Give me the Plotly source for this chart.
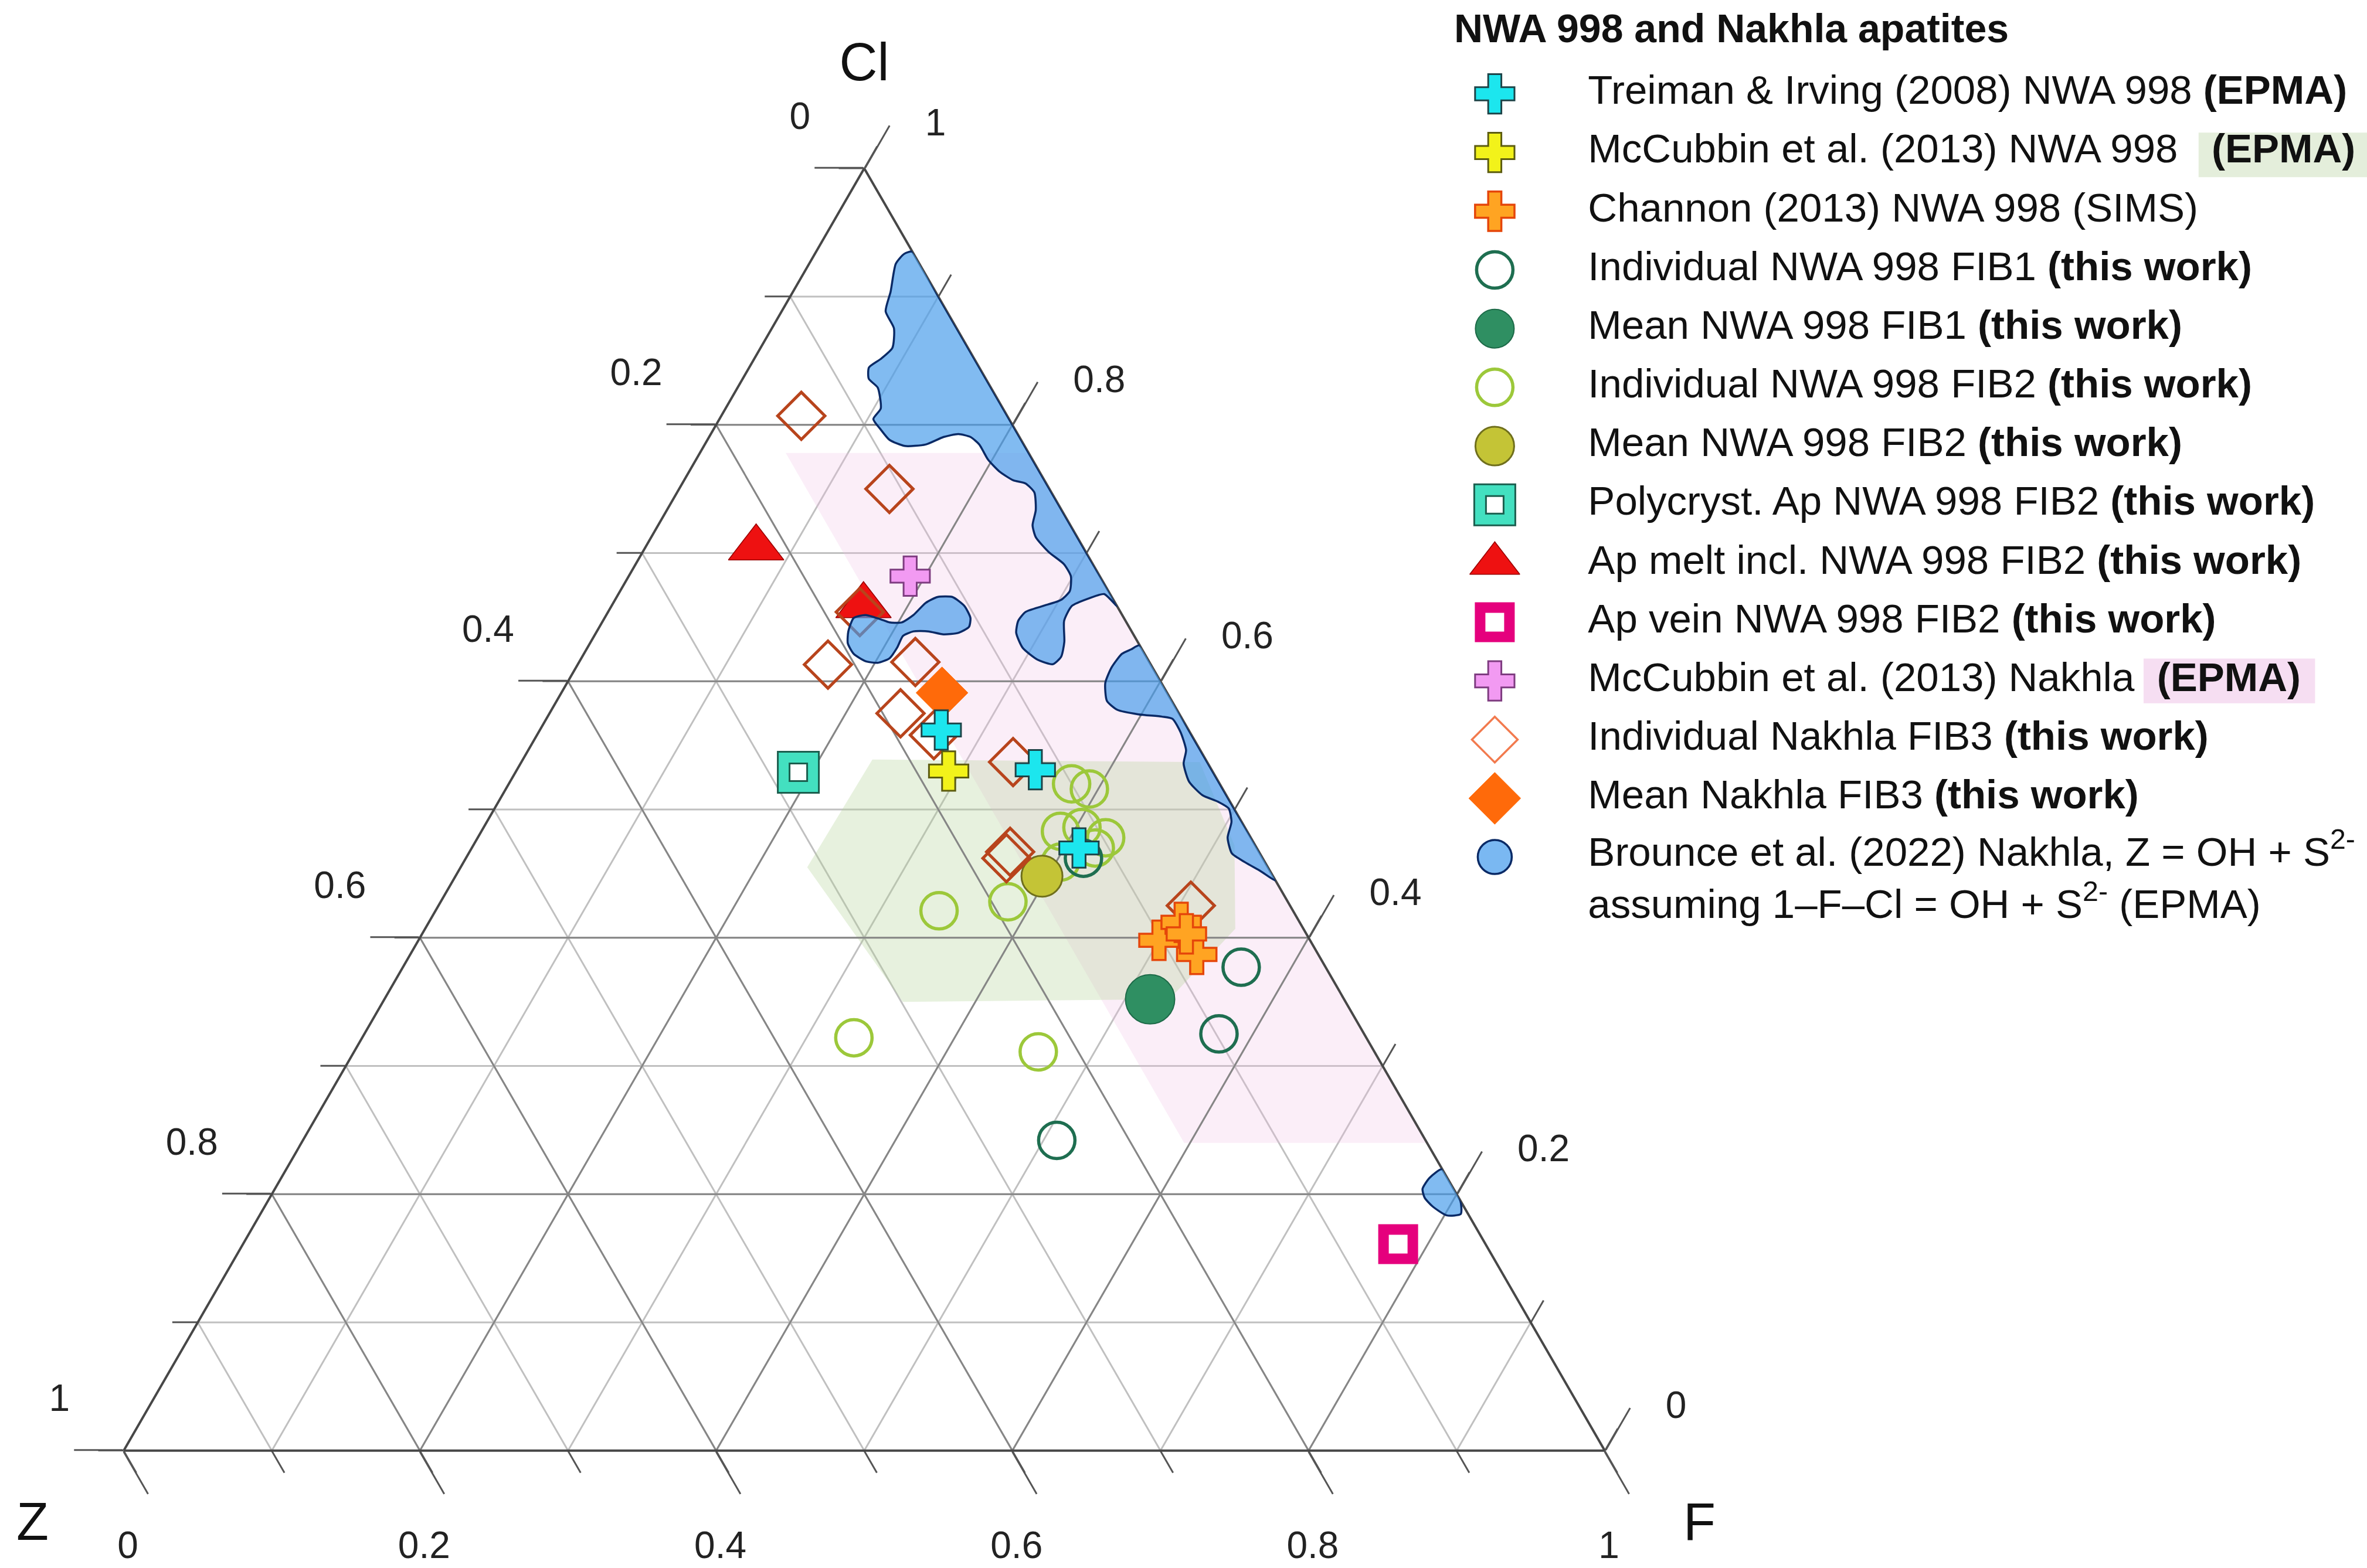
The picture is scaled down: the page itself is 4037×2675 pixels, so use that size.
import numpy as np
import plotly.graph_objects as go

# ---------------------------------------------------------------
# Data: molar fractions on the ternary Cl - F - Z  (Z = 1 - Cl - F)
# ---------------------------------------------------------------
treiman_cl = [0.562, 0.531, 0.470]
treiman_f = [0.271, 0.350, 0.410]

mccubbin_nwa_cl = [0.530]
mccubbin_nwa_f = [0.292]

channon_cl = [0.398, 0.412, 0.387, 0.403]
channon_f = [0.500, 0.508, 0.531, 0.516]

fib1_ind_cl = [0.377, 0.325, 0.242, 0.462]
fib1_ind_f = [0.566, 0.577, 0.509, 0.417]

fib1_mean_cl = [0.352]
fib1_mean_f = [0.517]

fib2_ind_cl = [0.421, 0.428, 0.322, 0.311, 0.520, 0.516, 0.483, 0.486, 0.478, 0.470, 0.459]
fib2_ind_f = [0.340, 0.383, 0.332, 0.462, 0.380, 0.394, 0.391, 0.404, 0.424, 0.421, 0.403]

fib2_mean_cl = [0.448]
fib2_mean_f = [0.396]

polycryst_cl = [0.529]
polycryst_f = [0.191]

melt_cl = [0.704, 0.659]
melt_f = [0.075, 0.170]

vein_cl = [0.161]
vein_f = [0.780]

mccubbin_nakhla_cl = [0.682]
mccubbin_nakhla_f = [0.190]

fib3_ind_cl = [0.807, 0.750, 0.613, 0.615, 0.575, 0.654, 0.537, 0.558, 0.467, 0.462, 0.425]
fib3_ind_f = [0.054, 0.142, 0.169, 0.227, 0.237, 0.170, 0.332, 0.268, 0.365, 0.365, 0.508]

fib3_mean_cl = [0.591]
fib3_mean_f = [0.257]

# Brounce et al. (2022) Nakhla fields, outlines given as (Cl, Z); F = 1 - Cl - Z
brounce_a_cl = [0.935, 0.9333, 0.9256, 0.9038, 0.8885, 0.8753, 0.8600, 0.8513, 0.8447, 0.8359,
                0.8290, 0.8127, 0.8045, 0.7963, 0.7882, 0.7835, 0.7846, 0.7905, 0.7928, 0.7905,
                0.7846, 0.7730, 0.7637, 0.7567, 0.7543, 0.7473, 0.7334, 0.7217, 0.7124, 0.7007,
                0.6914, 0.6820, 0.6704, 0.6634, 0.6587, 0.6541, 0.6471, 0.6378, 0.6261, 0.6168,
                0.6133, 0.6191, 0.6308, 0.6471, 0.6587, 0.6646, 0.6680, 0.6587, 0.700, 0.800, 0.900]
brounce_a_z = [0.000, 0.0064, 0.0159, 0.0303, 0.0413, 0.0423, 0.0510, 0.0633, 0.0745, 0.0790,
               0.0764, 0.0825, 0.0916, 0.0907, 0.0888, 0.0809, 0.0663, 0.0512, 0.0400, 0.0330,
               0.0300, 0.0300, 0.0270, 0.0210, 0.0140, 0.0115, 0.0175, 0.0255, 0.0280, 0.0250,
               0.0195, 0.0195, 0.0260, 0.0355, 0.0500, 0.0640, 0.0725, 0.0785, 0.0800, 0.0745,
               0.0660, 0.0575, 0.0495, 0.0415, 0.0305, 0.0160, 0.0040, 0.000, 0.000, 0.000, 0.000]

brounce_b_cl = [0.6494, 0.6517, 0.6483, 0.6459, 0.6459, 0.6517, 0.6611, 0.6657, 0.6657, 0.6587,
                0.6494, 0.6424, 0.6378, 0.6366, 0.6389, 0.6389, 0.6354, 0.6261, 0.6179, 0.6144,
                0.6156, 0.6214, 0.6296, 0.6389]
brounce_b_z = [0.1824, 0.1732, 0.1647, 0.1600, 0.1518, 0.1409, 0.1280, 0.1177, 0.1076, 0.1030,
               0.1036, 0.1081, 0.1175, 0.1282, 0.1372, 0.1473, 0.1561, 0.1648, 0.1740, 0.1837,
               0.1912, 0.1964, 0.1963, 0.1913]

brounce_c_cl = [0.6280, 0.6249, 0.6214, 0.6109, 0.5987, 0.5847, 0.5777, 0.5742, 0.5724, 0.5707,
                0.5602, 0.5462, 0.5357, 0.5218, 0.5112, 0.5060, 0.5008, 0.4903, 0.4781, 0.4658,
                0.4588, 0.4518, 0.4448, 0.500, 0.560]
brounce_c_z = [0.000, 0.0073, 0.0153, 0.0275, 0.0379, 0.0438, 0.0402, 0.0277, 0.0127, 0.0065,
               0.0063, 0.0096, 0.0165, 0.0198, 0.0161, 0.0080, 0.0035, 0.0069, 0.0156, 0.0189,
               0.0134, 0.0063, 0.000, 0.000, 0.000]

brounce_d_cl = [0.2195, 0.2127, 0.2041, 0.1972, 0.1904, 0.1835, 0.1845, 0.1950]
brounce_d_z = [0.000, 0.012, 0.021, 0.023, 0.021, 0.015, 0.005, 0.000]

# Highlight fields (Cl, Z)
pink_cl = [0.778, 0.778, 0.240, 0.240]
pink_z = [0.164, 0.000, 0.000, 0.164]
green_cl = [0.455, 0.539, 0.537, 0.472, 0.407, 0.352, 0.350]
green_z = [0.311, 0.225, 0.005, 0.014, 0.046, 0.118, 0.299]

# Axis ticks (labels run clockwise: left edge = Z, bottom = F, right = Cl)
major_vals = [0.0, 0.2, 0.4, 0.6, 0.8, 1.0]
major_text = ["1", "0.8", "0.6", "0.4", "0.2", "0"]
minor_vals = [0.0, 0.1, 0.2, 0.3, 0.4, 0.5, 0.6, 0.7, 0.8, 0.9, 1.0]
axis_titles = {"a": "Cl", "b": "Z", "c": "F"}

# Legend
legend_labels = [
    "Treiman & Irving (2008) NWA 998 <b>(EPMA)</b>",
    "McCubbin et al. (2013) NWA 998\u00a0\u00a0\u00a0<b>(EPMA)</b>",
    "Channon (2013) NWA 998 (SIMS)",
    "Individual NWA 998 FIB1 <b>(this work)</b>",
    "Mean NWA 998 FIB1 <b>(this work)</b>",
    "Individual NWA 998 FIB2 <b>(this work)</b>",
    "Mean NWA 998 FIB2 <b>(this work)</b>",
    "Polycryst. Ap NWA 998 FIB2 <b>(this work)</b>",
    "Ap melt incl. NWA 998 FIB2 <b>(this work)</b>",
    "Ap vein NWA 998 FIB2 <b>(this work)</b>",
    "McCubbin et al. (2013) Nakhla\u00a0\u00a0<b>(EPMA)</b>",
    "Individual Nakhla FIB3 <b>(this work)</b>",
    "Mean Nakhla FIB3 <b>(this work)</b>",
    "Brounce et al. (2022) Nakhla, Z = OH + S<sup>2-</sup><br>assuming 1\u2013F\u2013Cl = OH + S<sup>2-</sup> (EPMA)",
]
legend_title = "NWA 998 and Nakhla apatites"
legend_rows = list(range(len(legend_labels)))

FONT = "Arial, Liberation Sans, sans-serif"
NB = "\u00a0"

# ---------------- styles ----------------
st = {
    "treiman": dict(symbol="cross", size=56, color="#1ce6ee", line=dict(color="#1d4448", width=3)),
    "mccub_nwa": dict(symbol="cross", size=56, color="#f2f21a", line=dict(color="#5c5c10", width=3)),
    "channon": dict(symbol="cross", size=56, color="#ffa422", line=dict(color="#e5460a", width=3.5)),
    "fib1_ind": dict(symbol="circle-open", size=62, color="#1e6e50", line=dict(color="#1e6e50", width=5.5)),
    "fib1_mean": dict(symbol="circle", size=84, color="#2f8f62", line=dict(color="#1d6a48", width=2)),
    "fib2_ind": dict(symbol="circle-open", size=62, color="#9cc83a", line=dict(color="#9cc83a", width=5.5)),
    "fib2_mean": dict(symbol="circle", size=70, color="#c4c436", line=dict(color="#6f6f1c", width=3)),
    "poly_out": dict(symbol="square", size=70, color="#43e0c0", line=dict(color="#1b5e4e", width=3)),
    "poly_in": dict(symbol="square", size=30, color="white", line=dict(color="#1b5e4e", width=3)),
    "melt": dict(symbol="triangle-up", size=82, color="#ee1111", line=dict(color="#990000", width=1.5)),
    "vein": dict(symbol="square", size=50, color="white", line=dict(color="#e5007d", width=18)),
    "mccub_nak": dict(symbol="cross", size=56, color="#f29af2", line=dict(color="#7e3c80", width=3)),
    "fib3_ind": dict(symbol="diamond-open", size=62, color="#b8441c", line=dict(color="#b8441c", width=5)),
    "fib3_mean": dict(symbol="diamond", size=68, color="#ff6a0a", line=dict(color="#ff6a0a", width=1)),
}
BLUE_FILL = "rgba(70,155,235,0.68)"
BLUE_LINE = "#0a2a66"

fig = go.Figure()


def add_points(cl, f, marker, subplot="ternary2"):
    cl = np.asarray(cl, dtype=float)
    f = np.asarray(f, dtype=float)
    z = 1.0 - cl - f
    fig.add_trace(go.Scatterternary(a=cl, b=z, c=f, mode="markers", marker=marker,
                                    subplot=subplot, showlegend=False, hoverinfo="skip",
                                    cliponaxis=False))


def add_field(cl, z, fillcolor, subplot, linecolor=None, width=0, spline=False):
    cl = list(cl) + list(cl[:1])
    z = list(z) + list(z[:1])
    cl = np.asarray(cl, dtype=float)
    z = np.asarray(z, dtype=float)
    f = 1.0 - cl - z
    line = dict(width=width, color=linecolor or "rgba(0,0,0,0)")
    if spline:
        line.update(shape="spline", smoothing=0.6)
    fig.add_trace(go.Scatterternary(a=cl, b=z, c=f, mode="lines", fill="toself",
                                    fillcolor=fillcolor, line=line, subplot=subplot,
                                    showlegend=False, hoverinfo="skip"))


# shaded highlight fields (bottom ternary layer, above the fine grid)
add_field(pink_cl, pink_z, "rgba(238,190,228,0.26)", "ternary")
add_field(green_cl, green_z, "rgba(175,208,145,0.30)", "ternary")

# data points (middle ternary layer)
add_points(fib2_ind_cl, fib2_ind_f, st["fib2_ind"])
add_points(fib1_ind_cl, fib1_ind_f, st["fib1_ind"])
add_points(fib1_mean_cl, fib1_mean_f, st["fib1_mean"])
add_points(fib2_mean_cl, fib2_mean_f, st["fib2_mean"])
add_points(polycryst_cl, polycryst_f, st["poly_out"])
add_points(polycryst_cl, polycryst_f, st["poly_in"])
add_points(melt_cl, melt_f, st["melt"])
add_points(fib3_ind_cl, fib3_ind_f, st["fib3_ind"])
add_points(fib3_mean_cl, fib3_mean_f, st["fib3_mean"])
add_points(vein_cl, vein_f, st["vein"])
add_points(mccubbin_nakhla_cl, mccubbin_nakhla_f, st["mccub_nak"])
add_points(channon_cl, channon_f, st["channon"])
add_points(mccubbin_nwa_cl, mccubbin_nwa_f, st["mccub_nwa"])
add_points(treiman_cl, treiman_f, st["treiman"])

# Brounce fields on top (top ternary layer)
for cl_, z_ in [(brounce_a_cl, brounce_a_z), (brounce_b_cl, brounce_b_z),
                (brounce_c_cl, brounce_c_z), (brounce_d_cl, brounce_d_z)]:
    add_field(cl_, z_, BLUE_FILL, "ternary3", BLUE_LINE, width=3.5, spline=True)

# ---------------- custom legend (cartesian subplot) ----------------
legend_styles = [
    [st["treiman"]], [st["mccub_nwa"]], [st["channon"]],
    [st["fib1_ind"]], [dict(st["fib1_mean"], size=66)],
    [st["fib2_ind"]], [dict(st["fib2_mean"], size=66)],
    [st["poly_out"], st["poly_in"]], [dict(st["melt"], size=74)],
    [st["vein"]], [st["mccub_nak"]],
    [dict(symbol="diamond-open", size=60, color="#f27a4e", line=dict(color="#f27a4e", width=3.5))],
    [st["fib3_mean"]],
    [dict(symbol="circle", size=58, color="#7ab8f2", line=dict(color=BLUE_LINE, width=3.5))],
]
for row, styles in zip(legend_rows, legend_styles):
    for m in styles:
        fig.add_trace(go.Scatter(x=[0], y=[row], mode="markers", marker=m, xaxis="x", yaxis="y",
                                 showlegend=False, hoverinfo="skip", cliponaxis=False))

text_y = [r if r < len(legend_rows) - 1 else r + 0.42 for r in legend_rows]
fig.add_trace(go.Scatter(x=[1] * len(legend_labels), y=text_y, mode="text", text=legend_labels,
                         textposition="middle right",
                         textfont=dict(family=FONT, size=69, color="#111111"),
                         xaxis="x", yaxis="y", showlegend=False, hoverinfo="skip",
                         cliponaxis=False))


# ---------------- ternary axes ----------------
def minor_axis():
    return dict(tickmode="array", tickvals=minor_vals, ticks="outside", ticklen=43,
                tickwidth=3, tickcolor="#555555", showticklabels=False,
                showgrid=True, gridcolor="#c0c0c0", gridwidth=2.5,
                showline=False, title=dict(text=""))


def label_text(edge):
    # nudge plotly's label placement towards the reference layout
    if edge == "a":   # left edge: lift labels
        return [t + "<br>" + NB + "<br>" + NB for t in major_text]
    if edge == "b":   # bottom edge: centre under the tick
        return [t + NB * 6 for t in major_text]
    return [NB * 3 + t for t in major_text]   # right edge: push outward


def major_axis(edge, labels=True):
    return dict(tickmode="array", tickvals=major_vals, ticktext=label_text(edge),
                ticks="outside", ticklen=83, tickwidth=3, tickcolor="#555555",
                showticklabels=labels,
                tickfont=dict(family=FONT, size=64, color="#222222"),
                showgrid=True, gridcolor="#868686", gridwidth=3,
                showline=True, linecolor="#474747", linewidth=4, layer="below traces",
                title=dict(text=axis_titles["a"] if edge == "a" else "",
                           font=dict(family=FONT, size=90, color="#111111")))


def top_axis(edge=None):
    # invisible ticks; only carries the bottom-edge labels a bit further out
    ax = dict(tickmode="array", tickvals=[], ticks="", showticklabels=False,
              showgrid=False, showline=False, title=dict(text=""))
    if edge == "b":
        ax.update(tickvals=major_vals, ticktext=label_text("b"), ticks="outside",
                  ticklen=121, tickcolor="rgba(0,0,0,0)", showticklabels=True,
                  tickfont=dict(family=FONT, size=64, color="#222222"))
    return ax


W, H = 4037, 2675
dom = dict(x=[211 / W, 2737 / W], y=[200 / H, 2388 / H])

fig.update_layout(
    width=W, height=H,
    margin=dict(l=0, r=0, t=0, b=0, pad=0),
    paper_bgcolor="white", plot_bgcolor="rgba(0,0,0,0)",
    showlegend=False, hovermode=False,
    font=dict(family=FONT),
    ternary=dict(domain=dom, sum=1, bgcolor="white",
                 aaxis=minor_axis(), baxis=minor_axis(), caxis=minor_axis()),
    ternary2=dict(domain=dom, sum=1, bgcolor="rgba(0,0,0,0)",
                  aaxis=major_axis("a"), baxis=major_axis("b", labels=False),
                  caxis=major_axis("c")),
    ternary3=dict(domain=dom, sum=1, bgcolor="rgba(0,0,0,0)",
                  aaxis=top_axis(), baxis=top_axis("b"), caxis=top_axis()),
    xaxis=dict(domain=[0.6, 1.0], range=[-0.8, 9.357], visible=False, fixedrange=True),
    yaxis=dict(domain=[0.0, 1.0], range=[25.11, -1.598], visible=False, fixedrange=True),
    shapes=[
        dict(type="rect", xref="x", yref="y", x0=7.55, x1=9.6, y0=0.66, y1=1.42,
             fillcolor="#e4eedb", line=dict(width=0), layer="below"),
        dict(type="rect", xref="x", yref="y", x0=6.96, x1=8.80, y0=9.62, y1=10.38,
             fillcolor="#f6def2", line=dict(width=0), layer="below"),
    ],
    annotations=[
        dict(text="<b>" + legend_title + "</b>", xref="paper", yref="paper",
             x=2478 / W, y=1 - 48 / H, xanchor="left", yanchor="middle", showarrow=False,
             font=dict(family=FONT, size=68, color="#111111")),
        dict(text=axis_titles["b"], xref="paper", yref="paper",
             x=55 / W, y=1 - 2596 / H, xanchor="center", yanchor="middle", showarrow=False,
             font=dict(family=FONT, size=90, color="#111111")),
        dict(text=axis_titles["c"], xref="paper", yref="paper",
             x=2898 / W, y=1 - 2596 / H, xanchor="center", yanchor="middle", showarrow=False,
             font=dict(family=FONT, size=90, color="#111111")),
    ],
)

fig.write_html("out.html", include_plotlyjs=True,
               config={"displayModeBar": False, "responsive": False},
               post_script="document.body.style.margin='0';document.body.style.overflow='hidden';")
